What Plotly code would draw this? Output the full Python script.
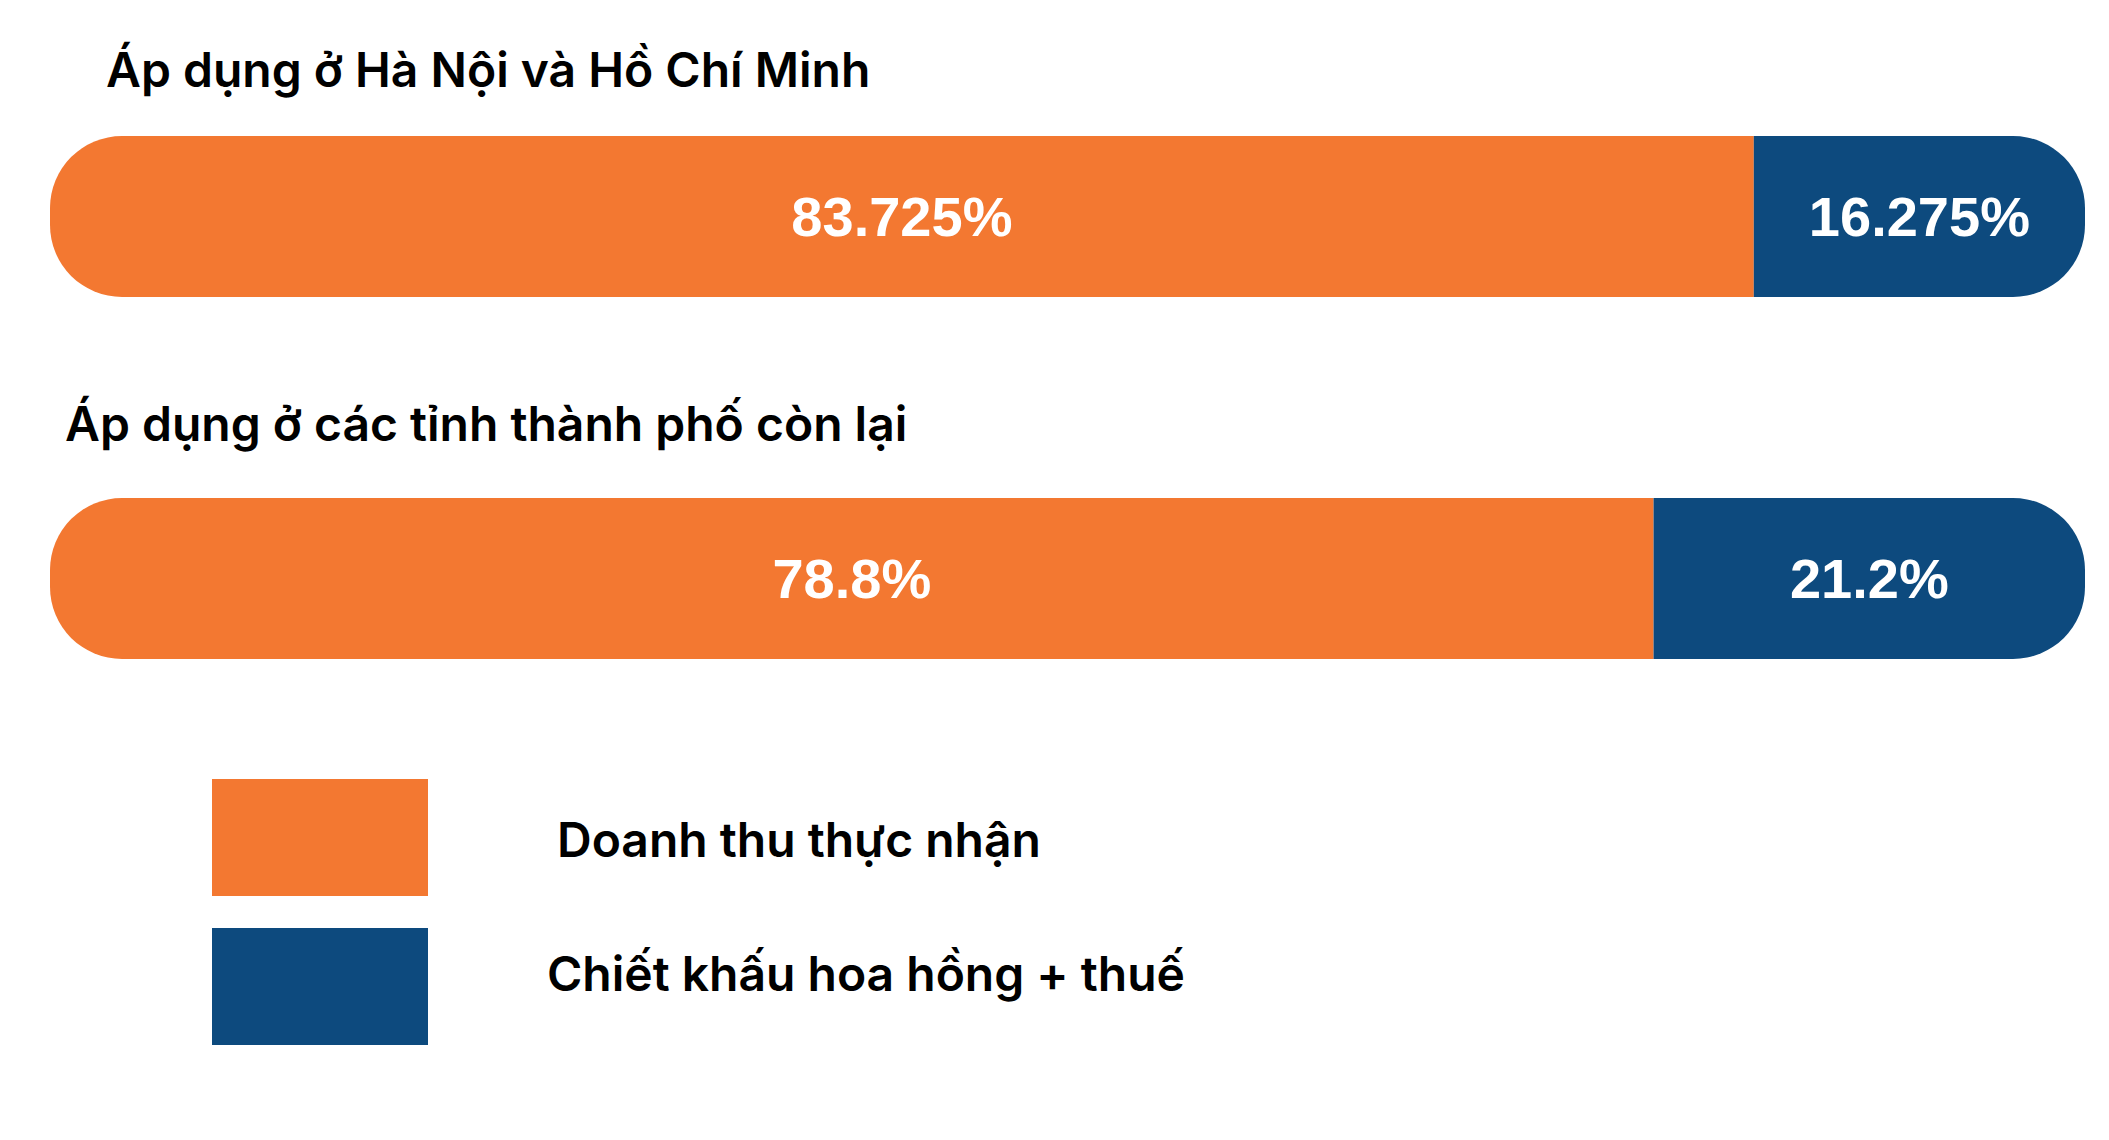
import plotly.graph_objects as go

# ---- data ----
regions = ["Áp dụng ở Hà Nội và Hồ Chí Minh", "Áp dụng ở các tỉnh thành phố còn lại"]
revenue = [83.725, 78.8]          # Doanh thu thực nhận (%)
fee = [16.275, 21.2]              # Chiết khấu hoa hồng + thuế (%)
series_names = ["Doanh thu thực nhận", "Chiết khấu hoa hồng + thuế"]
colors = ["#F37831", "#0D4A7E"]

# page is rendered with an 8px body margin -> work in page pixels and convert
OFF = 8
W, H = 2109 - 2 * OFF, 1140 - 2 * OFF

def fx(p):  # page px -> paper x
    return (p - OFF) / W

def fy(p):  # page px -> paper y
    return 1 - (p - OFF) / H

bar_rows = [(136, 297), (498, 659)]   # vertical extent of each bar (page px)
bar_x = (50, 2085)                    # horizontal extent of the bars (page px)

fig = go.Figure()
label_font = dict(family="Liberation Sans, Arial", size=56, color="white", weight="bold")
layout_axes = {}
for i, (name, rv, fe) in enumerate(zip(regions, revenue, fee)):
    k = "" if i == 0 else str(i + 1)
    xa, ya = "x" + k, "y" + k
    # revenue stacks to the left of the split point, fee to the right (relative mode)
    fig.add_trace(go.Bar(
        y=[name], x=[-rv], orientation="h", xaxis=xa, yaxis=ya,
        marker=dict(color=colors[0], cornerradius=72, line=dict(width=0)),
        text=[f"{rv:g}%"], textposition="inside", insidetextanchor="middle",
        textfont=label_font, constraintext="none", width=1,
        name=series_names[0], hoverinfo="skip",
    ))
    fig.add_trace(go.Bar(
        y=[name], x=[fe], orientation="h", xaxis=xa, yaxis=ya,
        marker=dict(color=colors[1], cornerradius=72, line=dict(width=0)),
        text=[f"{fe:g}%"], textposition="inside", insidetextanchor="middle",
        textfont=label_font, constraintext="none", width=1,
        name=series_names[1], hoverinfo="skip",
    ))
    top, bot = bar_rows[i]
    layout_axes["xaxis" + k] = dict(range=[-rv, fe], domain=[fx(bar_x[0]), fx(bar_x[1])],
                                    visible=False, fixedrange=True, anchor=ya)
    layout_axes["yaxis" + k] = dict(type="category", range=[-0.5, 0.5],
                                    domain=[fy(bot), fy(top)], visible=False,
                                    fixedrange=True, anchor=xa)

text_font = dict(family="Inter", size=48, color="#000000", weight=600)

# titles above each bar
title_pos = [(104, 70), (63, 424)]
for name, (tx, ty) in zip(regions, title_pos):
    fig.add_annotation(x=fx(tx), y=fy(ty), xref="paper", yref="paper",
                       text=name, showarrow=False, xanchor="left", yanchor="middle",
                       font=text_font)

# legend
leg_boxes = [(779, 896), (928, 1045)]
leg_text = [(555, 840), (545, 973)]
for name, col, (y0, y1), (lx, ly) in zip(series_names, colors, leg_boxes, leg_text):
    fig.add_shape(type="rect", xref="paper", yref="paper",
                  x0=fx(212), x1=fx(428), y0=fy(y1), y1=fy(y0),
                  fillcolor=col, line=dict(width=0))
    fig.add_annotation(x=fx(lx), y=fy(ly), xref="paper", yref="paper",
                       text=name, showarrow=False, xanchor="left", yanchor="middle",
                       font=text_font)

fig.update_layout(
    width=W, height=H, barmode="relative", showlegend=False,
    margin=dict(l=0, r=0, t=0, b=0),
    paper_bgcolor="white", plot_bgcolor="white",
    uniformtext=dict(mode=False),
    **layout_axes,
)
fig.write_html("out.html", config={"displayModeBar": False})
